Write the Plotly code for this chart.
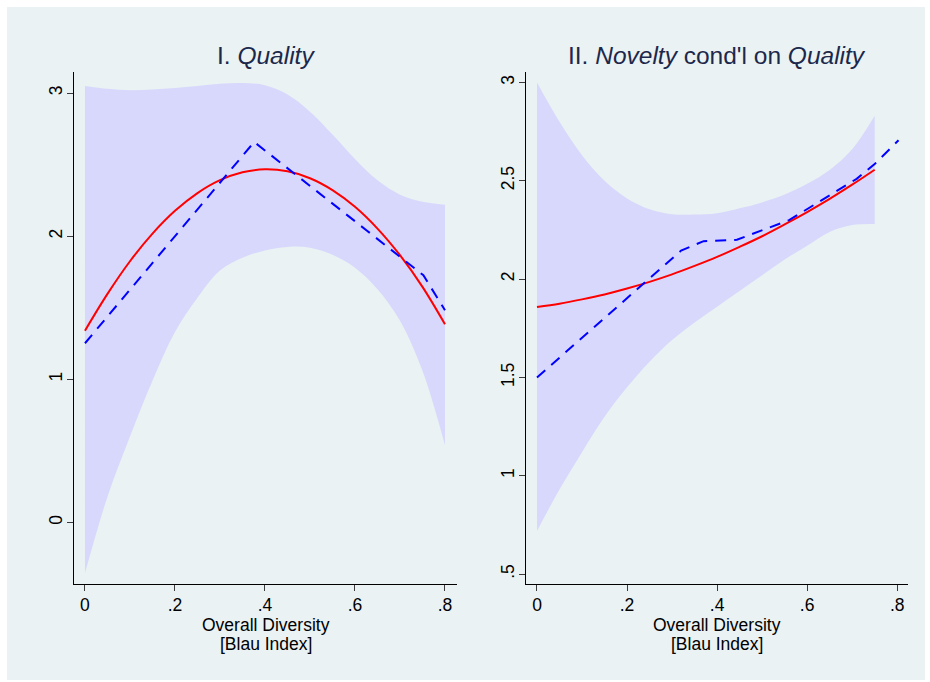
import plotly.graph_objects as go

# ---------------- data ----------------
# Panel I: Quality
p1_band_x = [0, .05, .1, .15, .2, .25, .3, .35, .4, .45, .5, .55, .6, .65, .7, .75, .8]
p1_band_hi = [3.05, 3.03, 3.02, 3.025, 3.035, 3.05, 3.065, 3.07, 3.055, 2.99, 2.87, 2.71, 2.54, 2.39, 2.29, 2.24, 2.22]
p1_band_lo = [-0.354, 0.18, 0.60, 0.99, 1.33, 1.57, 1.76, 1.85, 1.90, 1.925, 1.92, 1.87, 1.78, 1.63, 1.41, 1.06, 0.54]
p1_fit_x = [0, .05, .1, .15, .2, .25, .3, .35, .4, .45, .5, .55, .6, .65, .7, .75, .8]
p1_fit_y = [1.34, 1.597, 1.825, 2.018, 2.177, 2.301, 2.391, 2.446, 2.467, 2.453, 2.405, 2.322, 2.205, 2.053, 1.867, 1.646, 1.385]
p1_spl_x = [0, .376, .626, .752, .8]
p1_spl_y = [1.252, 2.658, 2.04, 1.727, 1.483]

# Panel II: Novelty cond'l on Quality
p2_band_x = [0, .05, .1, .15, .2, .25, .3, .35, .4, .45, .5, .55, .6, .65, .7, .75]
p2_band_hi = [3.0, 2.80, 2.63, 2.50, 2.41, 2.355, 2.33, 2.328, 2.335, 2.36, 2.39, 2.43, 2.485, 2.555, 2.66, 2.83]
p2_band_lo = [0.72, 0.93, 1.12, 1.30, 1.45, 1.58, 1.69, 1.78, 1.86, 1.94, 2.02, 2.10, 2.17, 2.24, 2.275, 2.28]
p2_fit_x = [0, .05, .1, .15, .2, .25, .3, .35, .4, .45, .5, .55, .6, .65, .7, .75]
p2_fit_y = [1.858, 1.875, 1.897, 1.922, 1.952, 1.986, 2.024, 2.067, 2.113, 2.164, 2.218, 2.278, 2.341, 2.408, 2.480, 2.556]
p2_spl_x = [0, .32, .37, .444, .56, .71, .75, .803]
p2_spl_y = [1.5, 2.145, 2.193, 2.20, 2.30, 2.51, 2.585, 2.706]

x_ticks = [0, .2, .4, .6, .8]
x_ticktext = ["0", ".2", ".4", ".6", ".8"]
p1_yticks = [0, 1, 2, 3]
p1_yticktext = ["0", "1", "2", "3"]
p2_yticks = [.5, 1, 1.5, 2, 2.5, 3]
p2_yticktext = [".5", "1", "1.5", "2", "2.5", "3"]

titles = ["I. <i>Quality</i>", "II. <i>Novelty</i> cond'l on <i>Quality</i>"]
xtitle1 = "Overall Diversity"
xtitle2 = "[Blau Index]"

# ---------------- style ----------------
BG = "rgb(234,242,243)"
BAND = "rgb(216,216,252)"
FONT = "Liberation Sans, Arial, Helvetica, sans-serif"
W, H = 930, 682
ML, MR, MT, MB = 74, 22, 72, 98
pw = W - ML - MR
ph = H - MT - MB

fig = go.Figure()

def add_panel(xa, ya, bx, blo, bhi, fx, fy, sx, sy):
    fig.add_trace(go.Scatter(x=bx, y=blo, mode="lines", line=dict(width=0, shape="spline"),
                             xaxis=xa, yaxis=ya, showlegend=False, hoverinfo="skip"))
    fig.add_trace(go.Scatter(x=bx, y=bhi, mode="lines", line=dict(width=0, shape="spline"),
                             fill="tonexty", fillcolor=BAND,
                             xaxis=xa, yaxis=ya, showlegend=False, hoverinfo="skip"))
    fig.add_trace(go.Scatter(x=fx, y=fy, mode="lines", line=dict(color="rgb(255,0,0)", width=2, shape="spline"),
                             xaxis=xa, yaxis=ya, showlegend=False))
    fig.add_trace(go.Scatter(x=sx, y=sy, mode="lines", line=dict(color="rgb(0,0,255)", width=2, dash="11px,8px"),
                             xaxis=xa, yaxis=ya, showlegend=False))

add_panel("x", "y", p1_band_x, p1_band_lo, p1_band_hi, p1_fit_x, p1_fit_y, p1_spl_x, p1_spl_y)
add_panel("x2", "y2", p2_band_x, p2_band_lo, p2_band_hi, p2_fit_x, p2_fit_y, p2_spl_x, p2_spl_y)

d1 = [0, (457 - ML) / pw]
d2 = [(526 - ML) / pw, 1]

xcommon = dict(tickvals=x_ticks, ticktext=x_ticktext, showgrid=False, zeroline=False,
               showline=True, linecolor="black", linewidth=1, ticks="outside", ticklen=6,
               tickcolor="rgb(60,60,60)", ticklabelstandoff=-1,
               tickfont=dict(size=17.5, color="black", family=FONT))
ycommon = dict(showgrid=True, gridcolor=BG, gridwidth=1.5, zeroline=False,
               showline=True, linecolor="black", linewidth=1, ticks="outside", ticklen=6,
               tickcolor="rgb(60,60,60)", tickangle=-90, ticklabelstandoff=-2,
               tickfont=dict(size=17.5, color="black", family=FONT))

fig.update_layout(
    width=W, height=H,
    margin=dict(l=ML, r=MR, t=MT, b=MB),
    paper_bgcolor="white", plot_bgcolor="white",
    font=dict(family=FONT),
    xaxis=dict(domain=d1, range=[-0.0244, 0.8267], anchor="y", **xcommon),
    xaxis2=dict(domain=d2, range=[-0.0244, 0.824], anchor="y2", **xcommon),
    yaxis=dict(domain=[0, 1], range=[-0.43, 3.147], anchor="x",
               tickvals=p1_yticks, ticktext=p1_yticktext, **ycommon),
    yaxis2=dict(domain=[0, 1], range=[0.45, 3.053], anchor="x2",
                tickvals=p2_yticks, ticktext=p2_yticktext, **ycommon),
    shapes=[dict(type="rect", xref="paper", yref="paper",
                 x0=(7 - ML) / pw, x1=(925 - ML) / pw,
                 y0=(MT + ph - 680) / ph, y1=(MT + ph - 7) / ph,
                 fillcolor=BG, line=dict(width=0), layer="below")],
)

ann = []
for i, (t, d) in enumerate(zip(titles, [d1, d2])):
    cx = (d[0] + d[1]) / 2
    ann.append(dict(text=t, x=cx, y=(MT + ph - 55) / ph, xref="paper", yref="paper",
                    xanchor="center", yanchor="middle", showarrow=False,
                    font=dict(size=24.5, color="rgb(28,40,75)", family=FONT)))
    ann.append(dict(text=xtitle1, x=cx, y=(MT + ph - 625) / ph, xref="paper", yref="paper",
                    xanchor="center", yanchor="middle", showarrow=False,
                    font=dict(size=17.5, color="black", family=FONT)))
    ann.append(dict(text=xtitle2, x=cx, y=(MT + ph - 644) / ph, xref="paper", yref="paper",
                    xanchor="center", yanchor="middle", showarrow=False,
                    font=dict(size=17.5, color="black", family=FONT)))
fig.update_layout(annotations=ann)

fig.write_html("out.html")
